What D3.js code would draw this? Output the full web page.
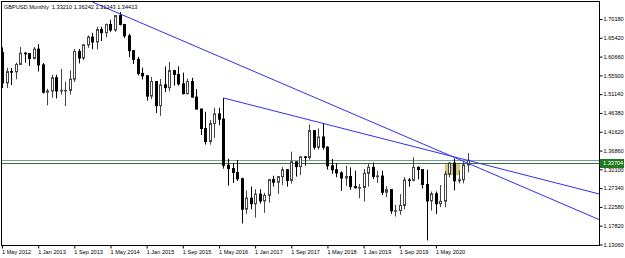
<!DOCTYPE html>
<html><head><meta charset="utf-8">
<script src="https://cdn.jsdelivr.net/npm/d3@7"></script>
<style>
html,body{margin:0;padding:0;background:#fff;}
svg{display:block;font-family:"Liberation Sans",Arial,sans-serif;}
</style></head>
<body>
<svg id="c" width="625" height="258"></svg>
<script>
// ---- DATA ----
const months = [
"2012-05","2012-06","2012-07","2012-08","2012-09","2012-10","2012-11","2012-12",
"2013-01","2013-02","2013-03","2013-04","2013-05","2013-06","2013-07","2013-08","2013-09","2013-10","2013-11","2013-12",
"2014-01","2014-02","2014-03","2014-04","2014-05","2014-06","2014-07","2014-08","2014-09","2014-10","2014-11","2014-12",
"2015-01","2015-02","2015-03","2015-04","2015-05","2015-06","2015-07","2015-08","2015-09","2015-10","2015-11","2015-12",
"2016-01","2016-02","2016-03","2016-04","2016-05","2016-06","2016-07","2016-08","2016-09","2016-10","2016-11","2016-12",
"2017-01","2017-02","2017-03","2017-04","2017-05","2017-06","2017-07","2017-08","2017-09","2017-10","2017-11","2017-12",
"2018-01","2018-02","2018-03","2018-04","2018-05","2018-06","2018-07","2018-08","2018-09","2018-10","2018-11","2018-12",
"2019-01","2019-02","2019-03","2019-04","2019-05","2019-06","2019-07","2019-08","2019-09","2019-10","2019-11","2019-12",
"2020-01","2020-02","2020-03","2020-04","2020-05","2020-06","2020-07","2020-08","2020-09","2020-10","2020-11","2020-12"];

const open = [
1.6165,1.5400,1.5685,1.5680,1.5867,1.6152,1.6140,1.6020,
1.6255,1.5855,1.5165,1.5195,1.5530,1.5195,1.5210,1.5210,1.5495,1.6195,1.6030,1.6365,
1.6560,1.6435,1.6750,1.6672,1.6880,1.6740,1.7105,1.6880,1.6592,1.6215,1.5995,1.5640,
1.5580,1.5065,1.5435,1.4825,1.5350,1.5280,1.5712,1.5615,1.5375,1.5128,1.5435,1.5040,
1.4737,1.4245,1.3917,1.4370,1.4614,1.4480,1.3312,1.3230,1.3130,1.2970,1.2200,1.2480,
1.2340,1.2580,1.2410,1.2550,1.2950,1.2885,1.3025,1.3200,1.2930,1.3400,1.3280,1.3525,
1.3510,1.4190,1.3770,1.4030,1.3770,1.3300,1.3200,1.3120,1.2990,1.3030,1.2775,1.2745,
1.2750,1.3110,1.3260,1.3030,1.3040,1.2630,1.2695,1.2160,1.2165,1.2295,1.2940,1.2935,
1.3260,1.3205,1.2825,1.2410,1.2590,1.2340,1.2400,1.3090,1.3370,1.2920,1.2945,1.3321];
const high = [
1.6300,1.5780,1.5776,1.5913,1.6309,1.6179,1.6140,1.6309,
1.6380,1.5900,1.5252,1.5605,1.5605,1.5752,1.5430,1.5717,1.6260,1.6260,1.6381,1.6603,
1.6668,1.6822,1.6822,1.6900,1.6997,1.7110,1.7192,1.6888,1.6644,1.6227,1.6060,1.5786,
1.5588,1.5552,1.5448,1.5498,1.5815,1.5930,1.5730,1.5819,1.5659,1.5509,1.5529,1.5242,
1.4748,1.4668,1.4459,1.4770,1.4770,1.5018,1.3480,1.3372,1.3445,1.2998,1.2675,1.2774,
1.2706,1.2707,1.2615,1.2965,1.3048,1.3030,1.3267,1.3212,1.3657,1.3400,1.3549,1.3549,
1.4345,1.4200,1.4245,1.4377,1.3796,1.3473,1.3363,1.3160,1.3297,1.3259,1.3175,1.2840,
1.3217,1.3351,1.3382,1.3177,1.3176,1.2784,1.2708,1.2311,1.2582,1.3013,1.2986,1.3515,
1.3285,1.3210,1.3200,1.2648,1.2648,1.2813,1.3171,1.3395,1.3482,1.3177,1.3399,1.3624];
const low = [
1.5269,1.5268,1.5346,1.5490,1.5860,1.5914,1.5827,1.5995,
1.5690,1.5130,1.4831,1.5022,1.5007,1.5102,1.4813,1.5100,1.5423,1.5894,1.5976,1.6288,
1.6252,1.6250,1.6460,1.6555,1.6692,1.6695,1.6855,1.6535,1.6052,1.5875,1.5590,1.5485,
1.4952,1.4990,1.4634,1.4565,1.5169,1.5190,1.5330,1.5330,1.5107,1.5106,1.5027,1.4735,
1.4080,1.3836,1.3834,1.4006,1.4330,1.3229,1.2798,1.2865,1.2915,1.1841,1.2083,1.2199,
1.1986,1.2345,1.2109,1.2365,1.2774,1.2589,1.2812,1.2774,1.2850,1.3027,1.3061,1.3302,
1.3457,1.3713,1.3711,1.3713,1.3205,1.3100,1.3010,1.2662,1.2786,1.2696,1.2723,1.2477,
1.2395,1.2773,1.2960,1.2866,1.2559,1.2506,1.2082,1.2015,1.2058,1.2195,1.2769,1.2904,
1.2955,1.2725,1.1409,1.2166,1.2076,1.2252,1.2250,1.3005,1.2676,1.2855,1.2855,1.3134];
const close = [
1.5400,1.5685,1.5680,1.5867,1.6152,1.6140,1.6020,1.6255,
1.5855,1.5165,1.5195,1.5530,1.5195,1.5210,1.5210,1.5495,1.6195,1.6030,1.6365,1.6560,
1.6435,1.6750,1.6672,1.6880,1.6740,1.7105,1.6880,1.6592,1.6215,1.5995,1.5640,1.5580,
1.5065,1.5435,1.4825,1.5350,1.5280,1.5712,1.5615,1.5375,1.5128,1.5435,1.5040,1.4737,
1.4245,1.3917,1.4370,1.4614,1.4480,1.3312,1.3230,1.3130,1.2970,1.2200,1.2480,1.2340,
1.2580,1.2410,1.2550,1.2950,1.2885,1.3025,1.3200,1.2930,1.3400,1.3280,1.3525,1.3510,
1.4190,1.3770,1.4030,1.3770,1.3300,1.3200,1.3120,1.2990,1.3030,1.2775,1.2745,1.2750,
1.3110,1.3260,1.3030,1.3040,1.2630,1.2695,1.2160,1.2165,1.2295,1.2940,1.2935,1.3260,
1.3205,1.2825,1.2410,1.2590,1.2340,1.2400,1.3090,1.3370,1.2920,1.2945,1.3325,1.3441];

const xTickMonths = ["2012-05","2013-01","2013-09","2014-05","2015-01","2015-09","2016-05","2017-01","2017-09","2018-05","2019-01","2019-09","2020-05"];
const xTickLabels = ["1 May 2012","1 Jan 2013","1 Sep 2013","1 May 2014","1 Jan 2015","1 Sep 2015","1 May 2016","1 Jan 2017","1 Sep 2017","1 May 2018","1 Jan 2019","1 Sep 2019","1 May 2020"];
const yTickLabels = ["1.13060","1.17820","1.22580","1.27340","1.32100","1.36860","1.41620","1.46380","1.51140","1.55900","1.60660","1.65420","1.70180"];

const title = "GBPUSD,Monthly  1.33210 1.36242 1.31343 1.34413";
// trend lines: [month, price] anchor pairs (rays extended right)
const trend1 = [["2014-01", 1.7448], ["2020-12", 1.3368]];
const trend2 = [["2016-06", 1.5018], ["2020-12", 1.3438]];
const bidLine = 1.34413;
const hLine = 1.33704;
const rectBox = [["2020-07", 1.3365], ["2020-10", 1.3060]];

// ---- LAYOUT ----
const L = 1.5, R = 599.5, T = 1.5, B = 245.5;
const FS = 5.6;
const svg = d3.select("#c");
const idx = new Map(months.map((m, i) => [m, i]));
const xi = d3.scaleLinear().domain([0, months.length - 1]).range([2, 2 + 103 * 4.52]);
const x = m => xi(idx.get(m));
const y = d3.scaleLinear().domain([1.1306, 1.7018]).range([244.5, 19]);

svg.append("defs").append("clipPath").attr("id", "clip")
  .append("rect").attr("x", L).attr("y", T).attr("width", R - L).attr("height", B - T);
const plot = svg.append("g").attr("clip-path", "url(#clip)");

// rectangle object
plot.append("rect")
  .attr("x", x(rectBox[0][0])).attr("y", y(rectBox[0][1]))
  .attr("width", x(rectBox[1][0]) - x(rectBox[0][0]) + 1.5)
  .attr("height", y(rectBox[1][1]) - y(rectBox[0][1]))
  .attr("fill", "#d6c57c");

// horizontal lines
plot.append("line").attr("x1", L).attr("x2", R).attr("y1", Math.round(y(bidLine)) + 0.5).attr("y2", Math.round(y(bidLine)) + 0.5)
  .attr("stroke", "#8396a8").attr("stroke-width", 1);
plot.append("line").attr("x1", L).attr("x2", R).attr("y1", Math.round(y(hLine)) + 0.5).attr("y2", Math.round(y(hLine)) + 0.5)
  .attr("stroke", "#2a7d2a").attr("stroke-width", 1);

// candles
const data = months.map((m, i) => ({m, o: open[i], h: high[i], l: low[i], c: close[i]}));
const cg = plot.append("g");
cg.selectAll("line.w").data(data).join("line").attr("class", "w")
  .attr("x1", d => Math.round(x(d.m)) + 0.5).attr("x2", d => Math.round(x(d.m)) + 0.5)
  .attr("y1", d => y(d.h)).attr("y2", d => y(d.l))
  .attr("stroke", d => d.c >= d.o ? "#444" : "#000").attr("stroke-width", 1);
cg.selectAll("rect.b").data(data).join("rect").attr("class", "b")
  .attr("x", d => Math.round(x(d.m)) - 0.5).attr("width", 2)
  .attr("y", d => Math.min(y(d.o), y(d.c)))
  .attr("height", d => Math.max(0.6, Math.abs(y(d.o) - y(d.c))))
  .attr("fill", d => d.c >= d.o ? "#fff" : "#000")
  .attr("stroke", d => d.c >= d.o ? "#444" : "#000").attr("stroke-width", 1);

// trend lines (rays)
function ray(t) {
  const x1 = x(t[0][0]), y1 = y(t[0][1]), x2 = x(t[1][0]), y2 = y(t[1][1]);
  const s = (y2 - y1) / (x2 - x1);
  return [x1, y1, R, y1 + s * (R - x1)];
}
[trend1, trend2].forEach(t => {
  const r = ray(t);
  plot.append("line").attr("x1", r[0]).attr("y1", r[1]).attr("x2", r[2]).attr("y2", r[3])
    .attr("stroke", "#2f2ff0").attr("stroke-width", 1);
});

// frame
svg.append("rect").attr("x", L).attr("y", T).attr("width", R - L).attr("height", B - T)
  .attr("fill", "none").attr("stroke", "#000").attr("stroke-width", 1);

// right axis
const yAxis = d3.axisRight(y).tickValues(yTickLabels.map(Number))
  .tickFormat((d, i) => yTickLabels[i]).tickSize(3).tickPadding(1);
const ya = svg.append("g").attr("transform", `translate(${R},0)`).call(yAxis);
ya.select(".domain").remove();
ya.selectAll("text").attr("font-size", FS).attr("font-family", "Liberation Sans, Arial, sans-serif").attr("fill", "#000");
ya.selectAll("line").attr("stroke", "#000");

// price label box
const hy = Math.round(y(hLine)) + 0.5;
svg.append("rect").attr("x", R + 0.5).attr("y", hy - 4.5).attr("width", 24).attr("height", 9).attr("fill", "#1f7a1f");
svg.append("text").attr("x", R + 3.5).attr("y", hy).attr("dy", "0.35em")
  .attr("font-size", FS).attr("fill", "#fff").text(hLine.toFixed(5));

// bottom axis
const xAxis = d3.axisBottom(xi).tickValues(xTickMonths.map(m => idx.get(m)))
  .tickFormat((d, i) => xTickLabels[i]).tickSize(3).tickPadding(2);
const xa = svg.append("g").attr("transform", `translate(0,${B})`).call(xAxis);
xa.select(".domain").remove();
xa.selectAll("text").attr("font-size", FS).attr("font-family", "Liberation Sans, Arial, sans-serif")
  .attr("text-anchor", "start").attr("dx", -0.5).attr("fill", "#000");
xa.selectAll("line").attr("stroke", "#000");

// title
svg.append("text").attr("x", 4).attr("y", 8.5).attr("font-size", FS).attr("fill", "#000")
  .attr("xml:space", "preserve").style("white-space", "pre").text(title);
</script>
</body></html>
